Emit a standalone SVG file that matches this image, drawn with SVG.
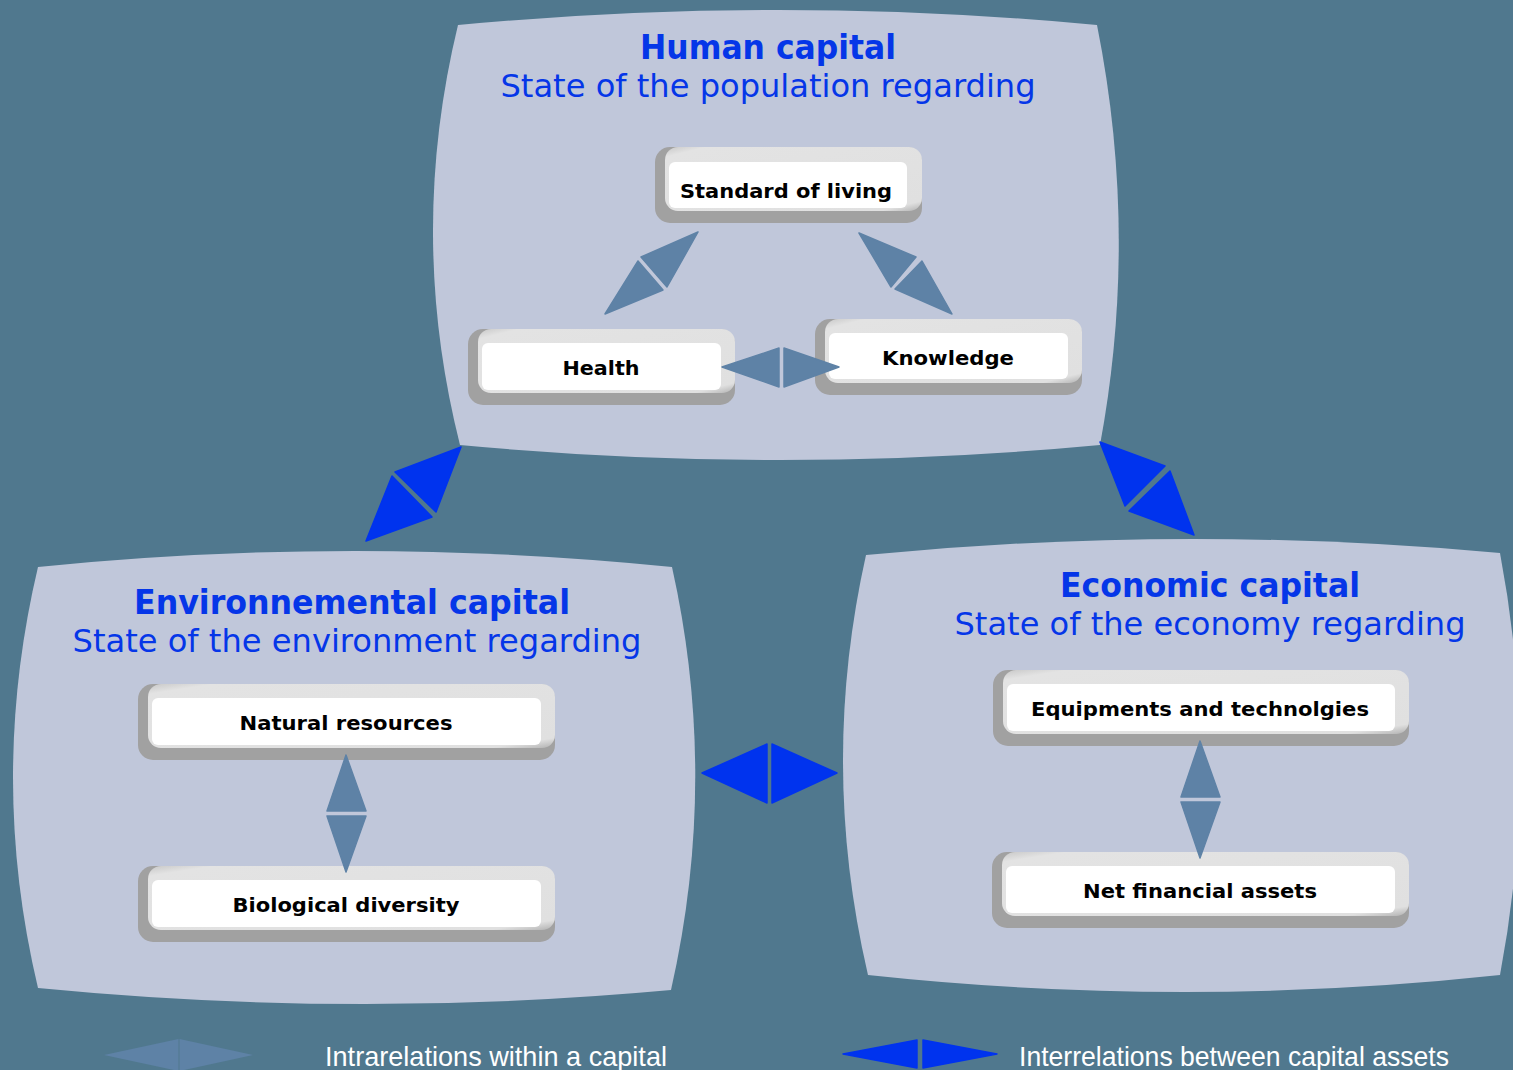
<svg xmlns="http://www.w3.org/2000/svg" width="1513" height="1070" viewBox="0 0 1513 1070">
<defs>
<style>
.panel{fill:#C0C7DA;}
.title{font-family:"DejaVu Sans",Verdana,sans-serif;font-weight:bold;font-size:33px;fill:#0536E8;}
.sub{font-family:"DejaVu Sans",Verdana,sans-serif;font-size:32px;fill:#0536E8;}
.lbl{font-family:"DejaVu Sans",Verdana,sans-serif;font-weight:bold;font-size:20px;fill:#000;}
.dark{fill:#A1A1A1;}
.light{fill:url(#lg);}
.inner{fill:#FFFFFF;}
.intra{fill:#5E82A6;stroke:#5E82A6;stroke-width:1.5;stroke-linejoin:round;}
.inter{fill:#0033EE;stroke:#0033EE;stroke-width:1.5;stroke-linejoin:round;}
.leg{font-family:"Liberation Sans",Arial,sans-serif;font-size:28px;fill:#FFFFFF;}
</style>
<linearGradient id="lg" x1="0" y1="0" x2="1" y2="1">
<stop offset="0" stop-color="#C8C8C8"/>
<stop offset="0.08" stop-color="#E3E3E3"/>
<stop offset="0.92" stop-color="#E0E0E0"/>
<stop offset="1" stop-color="#B0B0B0"/>
</linearGradient>
</defs>
<rect x="0" y="0" width="1513" height="1070" fill="#50788E"/>

<g id="human-capital">
<path class="panel" d="M458,25 Q778,-5 1097,25 Q1139,235 1100,445 Q780,475 460,445 Q407,235 458,25 Z"/>
<text class="title" x="768" y="59" text-anchor="middle" textLength="256" lengthAdjust="spacingAndGlyphs">Human capital</text>
<text class="sub" x="768" y="97" text-anchor="middle" textLength="535" lengthAdjust="spacingAndGlyphs">State of the population regarding</text>
</g>

<g id="environmental-capital">
<path class="panel" d="M38,567 Q355,535 672,567 Q719,778 671,990 Q355,1019 38,988 Q-12,778 38,567 Z"/>
<text class="title" x="352" y="614" text-anchor="middle" textLength="436" lengthAdjust="spacingAndGlyphs">Environnemental capital</text>
<text class="sub" x="357" y="652" text-anchor="middle" textLength="569" lengthAdjust="spacingAndGlyphs">State of the environment regarding</text>
</g>

<g id="economic-capital">
<path class="panel" d="M866,555 Q1183,524 1500,553 Q1540,764 1500,975 Q1184,1009 868,975 Q819,765 866,555 Z"/>
<text class="title" x="1210" y="597" text-anchor="middle" textLength="300" lengthAdjust="spacingAndGlyphs">Economic capital</text>
<text class="sub" x="1210" y="635" text-anchor="middle" textLength="511" lengthAdjust="spacingAndGlyphs">State of the economy regarding</text>
</g>

<g id="standard-of-living">
<rect class="dark" x="655" y="147" width="267" height="76" rx="15"/>
<rect class="light" x="665" y="147" width="257" height="64" rx="13"/>
<rect class="inner" x="669" y="162" width="238" height="46" rx="6"/>
<text class="lbl" x="786" y="198" text-anchor="middle" textLength="212" lengthAdjust="spacingAndGlyphs">Standard of living</text>
</g>

<g id="health">
<rect class="dark" x="468" y="329" width="267" height="76" rx="15"/>
<rect class="light" x="478" y="329" width="257" height="64" rx="13"/>
<rect class="inner" x="482" y="343" width="239" height="47" rx="6"/>
<text class="lbl" x="601" y="375" text-anchor="middle" textLength="77" lengthAdjust="spacingAndGlyphs">Health</text>
</g>

<g id="knowledge">
<rect class="dark" x="815" y="319" width="267" height="76" rx="15"/>
<rect class="light" x="825" y="319" width="257" height="64" rx="13"/>
<rect class="inner" x="829" y="333" width="239" height="46" rx="6"/>
<text class="lbl" x="948" y="365" text-anchor="middle" textLength="132" lengthAdjust="spacingAndGlyphs">Knowledge</text>
</g>

<g id="natural-resources">
<rect class="dark" x="138" y="684" width="417" height="76" rx="15"/>
<rect class="light" x="148" y="684" width="407" height="64" rx="13"/>
<rect class="inner" x="152" y="698" width="389" height="47" rx="6"/>
<text class="lbl" x="346" y="730" text-anchor="middle" textLength="213" lengthAdjust="spacingAndGlyphs">Natural resources</text>
</g>

<g id="biological-diversity">
<rect class="dark" x="138" y="866" width="417" height="76" rx="15"/>
<rect class="light" x="148" y="866" width="407" height="64" rx="13"/>
<rect class="inner" x="152" y="880" width="389" height="47" rx="6"/>
<text class="lbl" x="346" y="912" text-anchor="middle" textLength="227" lengthAdjust="spacingAndGlyphs">Biological diversity</text>
</g>

<g id="equipments-and-technologies">
<rect class="dark" x="993" y="670" width="416" height="76" rx="15"/>
<rect class="light" x="1003" y="670" width="406" height="64" rx="13"/>
<rect class="inner" x="1007" y="684" width="388" height="47" rx="6"/>
<text class="lbl" x="1200" y="716" text-anchor="middle" textLength="338" lengthAdjust="spacingAndGlyphs">Equipments and technolgies</text>
</g>

<g id="net-financial-assets">
<rect class="dark" x="992" y="852" width="417" height="76" rx="15"/>
<rect class="light" x="1002" y="852" width="407" height="64" rx="13"/>
<rect class="inner" x="1006" y="866" width="389" height="47" rx="6"/>
<text class="lbl" x="1200" y="898" text-anchor="middle" textLength="234" lengthAdjust="spacingAndGlyphs">Net financial assets</text>
</g>

<g id="connectors">
<polygon class="intra" points="698,232 641,257 667,287"/>
<polygon class="intra" points="638,261 663,290 605,314"/>
<polygon class="intra" points="859,233 916,257 891,287"/>
<polygon class="intra" points="922,261 895,289 952,314"/>
<polygon class="intra" points="722,367 779,348 779,387"/>
<polygon class="intra" points="784,348 784,387 839,367"/>
<polygon class="intra" points="346,755 327,811 366,811"/>
<polygon class="intra" points="327,816 366,816 346,872"/>
<polygon class="intra" points="1200,741 1181,797 1220,797"/>
<polygon class="intra" points="1181,802 1220,802 1200,858"/>
<polygon class="inter" points="461,447 395,472 436,512"/>
<polygon class="inter" points="392,476 432,517 366,541"/>
<polygon class="inter" points="1100,442 1165,466 1125,506"/>
<polygon class="inter" points="1170,471 1129,511 1194,535"/>
<polygon class="inter" points="702,773 767,744 767,803"/>
<polygon class="inter" points="772,744 772,803 837,773"/>
</g>

<g id="legend">
<polygon fill="#5E82A6" points="104,1055 178.5,1039 178.5,1071"/>
<polygon fill="#5E82A6" points="179.5,1039 179.5,1071 253,1055"/>
<text class="leg" x="325" y="1066" textLength="342" lengthAdjust="spacingAndGlyphs">Intrarelations within a capital</text>
<polygon class="inter" points="843,1054 917,1040 917,1068"/>
<polygon class="inter" points="923,1040 923,1068 997,1054"/>
<text class="leg" x="1019" y="1066" textLength="430" lengthAdjust="spacingAndGlyphs">Interrelations between capital assets</text>
</g>
</svg>
